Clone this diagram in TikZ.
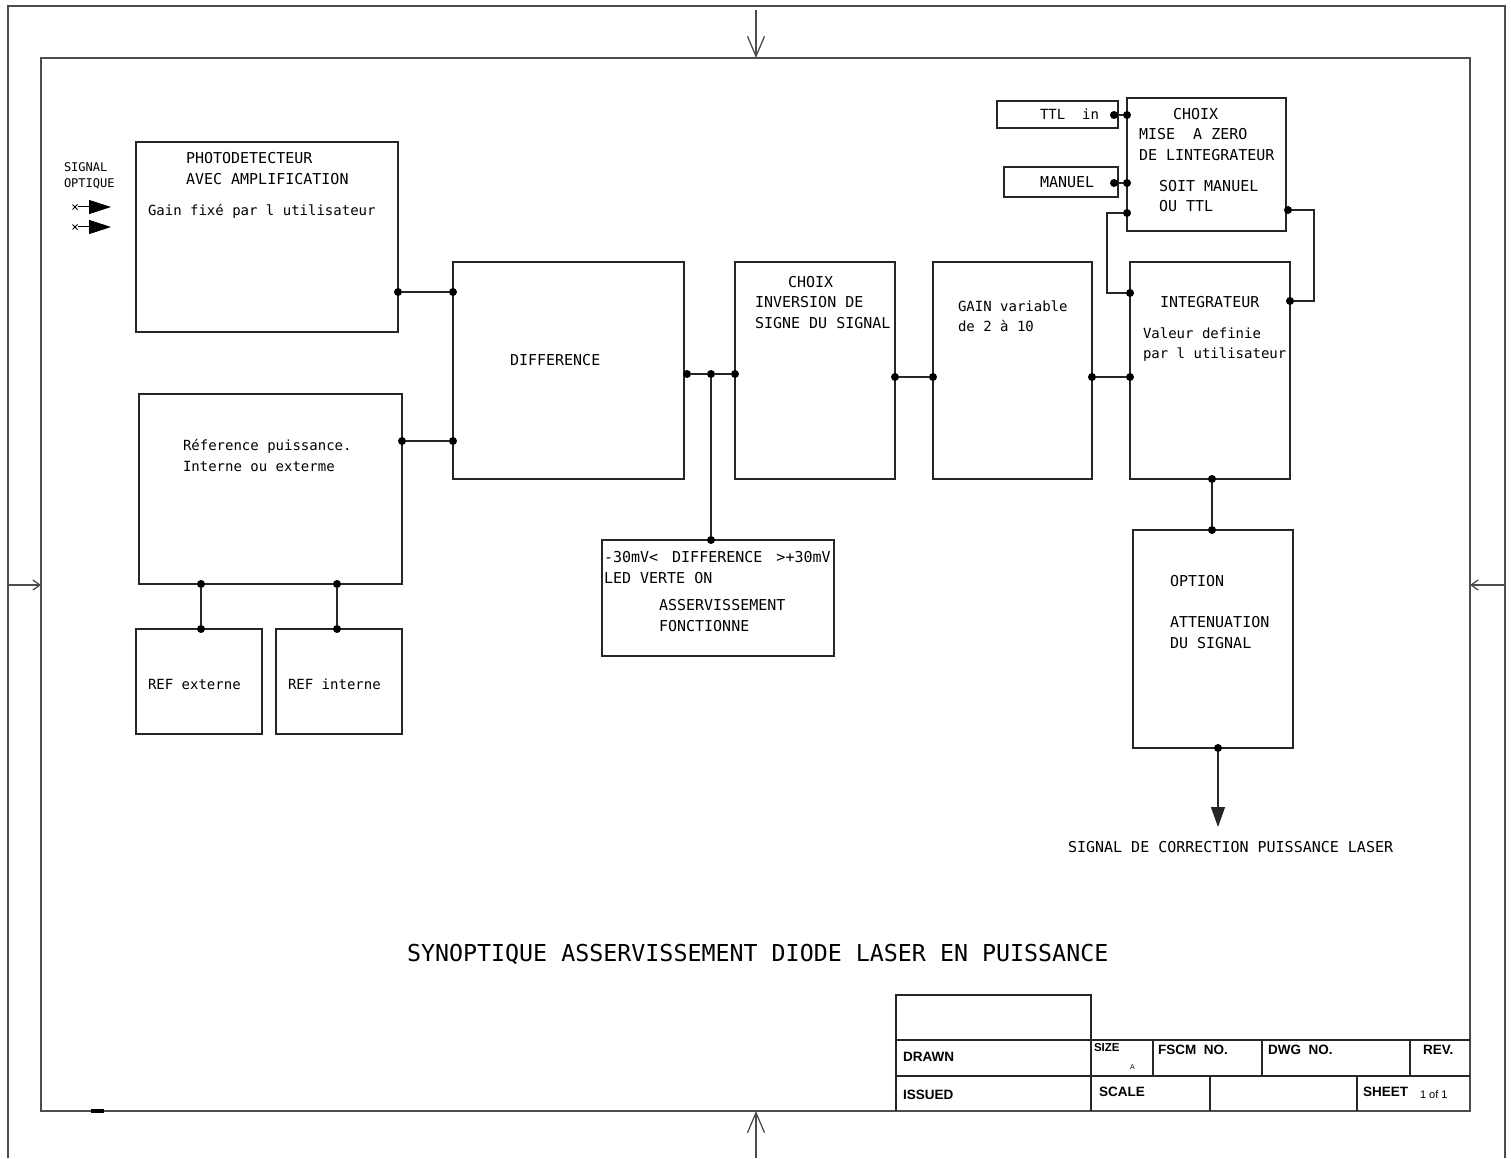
\documentclass[tikz,border=0pt]{standalone}
\usepackage{fontspec}
\newfontfamily\cadfont{DejaVu Sans Mono}
\newfontfamily\tbfont{Liberation Sans}
\usetikzlibrary{arrows.meta,shapes.misc}
\colorlet{frm}{black!70}
\colorlet{ink}{black!85}
\tikzset{
  every node/.style={inner sep=0pt,outer sep=0pt},
  blk/.style={draw=ink,line width=1.3pt,anchor=north west},
  captxt/.style={font=\cadfont\fontsize{15}{18}\selectfont,anchor=base west},
  mixtxt/.style={font=\cadfont\fontsize{14}{17}\selectfont,anchor=base west},
  tbtxt/.style={font=\tbfont\bfseries\fontsize{13.5}{16}\selectfont,anchor=base west},
  dot/.style={circle,fill=black,minimum size=8pt},
  wire/.style={draw=ink,line width=1.2pt},
  sheetframe/.style={draw=frm,line width=1.8pt},
  xmark/.style={cross out,draw=black,minimum size=5pt,line width=0.8pt},
}

\begin{document}
\begin{tikzpicture}[x=1pt,y=-1pt]
  \useasboundingbox (0,0) rectangle (1511,1158);

  % ---------------- sheet frame
  \draw[sheetframe] (8,1158) -- (8,6) -- (1505,6) -- (1505,1158);
  \draw[sheetframe] (41,58) rectangle (1470,1111);
  \fill[black] (91,1109) rectangle (104,1113);
  \coordinate (fTop) at (756,58);
  \coordinate (fBot) at (756,1111);
  \coordinate (fLeft) at (41,585);
  \coordinate (fRight) at (1470,585);
  \draw[sheetframe,line width=1.3pt,-{Straight Barb[length=20pt,width=17pt]}] (756,10) -- (fTop);
  \draw[sheetframe,line width=1.3pt,-{Straight Barb[length=20pt,width=17pt]}] (756,1158) -- (fBot);
  \draw[sheetframe,line width=1.3pt,-{Straight Barb[length=7pt,width=10pt]}] (8,585) -- (fLeft);
  \draw[sheetframe,line width=1.3pt,-{Straight Barb[length=7pt,width=10pt]}] (1505,585) -- (fRight);

  % ---------------- optical input
  \node[font=\cadfont\fontsize{12}{14}\selectfont,anchor=base west] (tSig) at (64,172) {SIGNAL};
  \node[font=\cadfont\fontsize{12}{14}\selectfont,anchor=base west] (tOpt) at (64,188) {OPTIQUE};
  \node[xmark] (so1) at (75,207) {};
  \node[xmark] (so2) at (75,227) {};
  \coordinate (so1tip) at (111,207);
  \coordinate (so2tip) at (111,227);
  \draw[line width=1pt,-{Triangle[length=22pt,width=14pt]}] (so1) -- (so1tip);
  \draw[line width=1pt,-{Triangle[length=22pt,width=14pt]}] (so2) -- (so2tip);

  % ---------------- photodetector
  \node[blk,minimum width=262pt,minimum height=190pt] (photo) at (136,142) {};
  \node[captxt] (tPhA) at (186,164) {PHOTODETECTEUR};
  \node[captxt] (tPhB) at (186,185) {AVEC AMPLIFICATION};
  \node[mixtxt] (tPhC) at (148,216) {Gain fixé par l utilisateur};

  % ---------------- reference
  \node[blk,minimum width=263pt,minimum height=190pt] (ref) at (139,394) {};
  \node[mixtxt] (tRfA) at (183,450) {Réference puissance.};
  \node[mixtxt] (tRfB) at (183,471) {Interne ou exterme};
  \node[blk,minimum width=126pt,minimum height=105pt] (refExt) at (136,629) {};
  \node[mixtxt] (tRfE) at (148,689) {REF externe};
  \node[blk,minimum width=126pt,minimum height=105pt] (refInt) at (276,629) {};
  \node[mixtxt] (tRfI) at (288,689) {REF interne};

  % ---------------- main chain
  \node[blk,minimum width=231pt,minimum height=217pt] (diff) at (453,262) {};
  \node[captxt] (tDif) at (510,365) {DIFFERENCE};
  \node[blk,minimum width=160pt,minimum height=217pt] (inv) at (735,262) {};
  \node[captxt] (tInA) at (788,287) {CHOIX};
  \node[captxt] (tInB) at (755,307) {INVERSION DE};
  \node[captxt] (tInC) at (755,328) {SIGNE DU SIGNAL};
  \node[blk,minimum width=159pt,minimum height=217pt] (gain) at (933,262) {};
  \node[mixtxt] (tGnA) at (958,311) {GAIN variable};
  \node[mixtxt] (tGnB) at (958,331) {de 2 à 10};
  \node[blk,minimum width=160pt,minimum height=217pt] (integ) at (1130,262) {};
  \node[captxt] (tIgA) at (1160,307) {INTEGRATEUR};
  \node[mixtxt] (tIgB) at (1143,338) {Valeur definie};
  \node[mixtxt] (tIgC) at (1143,358) {par l utilisateur};

  % ---------------- status led
  \node[blk,minimum width=232pt,minimum height=116pt] (led) at (602,540) {};
  \node[captxt] (tLdA) at (604,562) {-30mV<\hspace{14pt}DIFFERENCE\hspace{14pt}>+30mV};
  \node[captxt] (tLdB) at (604,583) {LED VERTE ON};
  \node[captxt] (tLdC) at (659,610) {ASSERVISSEMENT};
  \node[captxt] (tLdD) at (659,631) {FONCTIONNE};

  % ---------------- reset choice
  \node[blk,minimum width=159pt,minimum height=133pt] (reset) at (1127,98) {};
  \node[captxt] (tRsA) at (1173,120) {CHOIX};
  \node[captxt] (tRsB) at (1139,140) {MISE~~A ZERO};
  \node[captxt] (tRsC) at (1139,161) {DE LINTEGRATEUR};
  \node[captxt] (tRsD) at (1159,192) {SOIT MANUEL};
  \node[captxt] (tRsE) at (1159,212) {OU TTL};
  \node[blk,minimum width=121pt,minimum height=27pt] (ttl) at (997,101) {};
  \node[mixtxt] (tTtl) at (1040,120) {TTL~~in};
  \node[blk,minimum width=114pt,minimum height=30pt] (man) at (1004,167) {};
  \node[captxt] (tMan) at (1040,188) {MANUEL};

  % ---------------- option
  \node[blk,minimum width=160pt,minimum height=218pt] (opt) at (1133,530) {};
  \node[captxt] (tOpA) at (1170,586) {OPTION};
  \node[captxt] (tOpB) at (1170,627) {ATTENUATION};
  \node[captxt] (tOpC) at (1170,648) {DU SIGNAL};
  \node[captxt] (tOut) at (1068,852) {SIGNAL DE CORRECTION PUISSANCE LASER};

  % ---------------- dots
  \node[dot] (dPh)  at (398,292) {};
  \node[dot] (dDfA) at (453,292) {};
  \node[dot] (dRf)  at (402,441) {};
  \node[dot] (dDfB) at (453,441) {};
  \node[dot] (dRfL) at (201,584) {};
  \node[dot] (dExt) at (201,629) {};
  \node[dot] (dRfR) at (337,584) {};
  \node[dot] (dInt) at (337,629) {};
  \node[dot] (dDfO) at (687,374) {};
  \node[dot] (dTap) at (711,374) {};
  \node[dot] (dInI) at (735,374) {};
  \node[dot] (dLed) at (711,540) {};
  \node[dot] (dInO) at (895,377) {};
  \node[dot] (dGnI) at (933,377) {};
  \node[dot] (dGnO) at (1092,377) {};
  \node[dot] (dIgI) at (1130,377) {};
  \node[dot] (dTtl) at (1114,115) {};
  \node[dot] (dRsT) at (1127,115) {};
  \node[dot] (dMan) at (1114,183) {};
  \node[dot] (dRsM) at (1127,183) {};
  \node[dot] (dRsL) at (1127,213) {};
  \node[dot] (dIgL) at (1130,293) {};
  \node[dot] (dRsR) at (1288,210) {};
  \node[dot] (dIgR) at (1290,301) {};
  \node[dot] (dIgB) at (1212,479) {};
  \node[dot] (dOpT) at (1212,530) {};
  \node[dot] (dOpB) at (1218,748) {};
  \coordinate (outTip) at (1218,827);

  % ---------------- connectors
  \draw[wire] (dPh) -- (dDfA);
  \draw[wire] (dRf) -- (dDfB);
  \draw[wire] (dRfL) -- (dExt);
  \draw[wire] (dRfR) -- (dInt);
  \draw[wire] (dDfO) -- (dTap) -- (dInI);
  \draw[wire] (dTap) -- (dLed);
  \draw[wire] (dInO) -- (dGnI);
  \draw[wire] (dGnO) -- (dIgI);
  \draw[wire] (dTtl) -- (dRsT);
  \draw[wire] (dMan) -- (dRsM);
  \draw[wire] (dRsL) -- (1107,213) |- (dIgL);
  \draw[wire] (dRsR) -- (1314,210) |- (dIgR);
  \draw[wire] (dIgB) -- (dOpT);
  \draw[wire,-{Triangle[length=20pt,width=14pt]}] (dOpB) -- (outTip);

  % ---------------- title
  \node[font=\cadfont\fontsize{23.3}{28}\selectfont,anchor=base west] (tTitle) at (407,961)
    {SYNOPTIQUE ASSERVISSEMENT DIODE LASER EN PUISSANCE};

  % ---------------- title block
  \draw[wire] (896,1111) |- (1091,995) -- (1091,1111);
  \draw[wire] (896,1040) -- (1470,1040);
  \draw[wire] (896,1076) -- (1470,1076);
  \draw[wire] (1153,1040) -- (1153,1076);
  \draw[wire] (1262,1040) -- (1262,1076);
  \draw[wire] (1410,1040) -- (1410,1076);
  \draw[wire] (1210,1076) -- (1210,1111);
  \draw[wire] (1357,1076) -- (1357,1111);
  \node[tbtxt] (tbDrawn) at (903,1061) {DRAWN};
  \node[tbtxt] (tbIssued) at (903,1099) {ISSUED};
  \node[tbtxt,font=\tbfont\bfseries\fontsize{11.5}{14}\selectfont] (tbSize) at (1094,1051) {SIZE};
  \node[tbtxt,font=\tbfont\fontsize{7}{8}\selectfont] (tbA) at (1130,1069) {A};
  \node[tbtxt] (tbFscm) at (1158,1054) {FSCM~~NO.};
  \node[tbtxt] (tbDwg) at (1268,1054) {DWG~~NO.};
  \node[tbtxt] (tbRev) at (1423,1054) {REV.};
  \node[tbtxt] (tbScale) at (1099,1096) {SCALE};
  \node[tbtxt] (tbSheet) at (1363,1096) {SHEET};
  \node[tbtxt,font=\tbfont\fontsize{11}{13}\selectfont] (tbOf) at (1420,1098) {1 of 1};
\end{tikzpicture}
\end{document}
